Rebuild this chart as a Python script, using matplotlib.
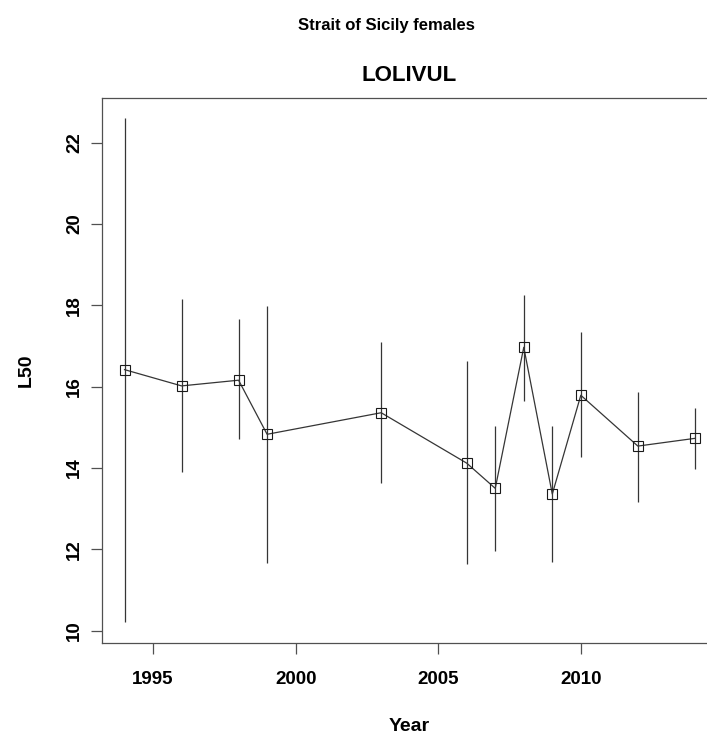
"""L50 by year with confidence bars, Strait of Sicily females (LOLIVUL)."""

import matplotlib

matplotlib.use("Agg")
import matplotlib.pyplot as plt
from matplotlib import font_manager

# values
years = [1994, 1996, 1998, 1999, 2003, 2006, 2007, 2008, 2009, 2010, 2012, 2014]
l50 = [16.42, 16.02, 16.16, 14.83, 15.36, 14.12, 13.50, 16.97, 13.36, 15.79, 14.54, 14.73]
lower = [10.22, 13.90, 14.71, 11.67, 13.63, 11.63, 11.97, 15.66, 11.70, 14.26, 13.17, 13.97]
upper = [22.60, 18.16, 17.67, 17.98, 17.09, 16.62, 15.04, 18.26, 15.04, 17.34, 15.88, 15.47]
x_ticks = [1995, 2000, 2005, 2010]
y_ticks = [10, 12, 14, 16, 18, 20, 22]

W, H = 707, 738
INK = "#505050"
LINE = "#353535"

installed = {f.name for f in font_manager.fontManager.ttflist}
if "Liberation Sans Narrow" in installed:
    title_family = "Liberation Sans Narrow"
    sub_size, main_size = 14.5, 19.5
else:
    title_family = "Liberation Sans"
    sub_size, main_size = 12, 16

plt.rcParams["font.family"] = ["Liberation Sans", "DejaVu Sans"]
plt.rcParams["font.weight"] = "bold"

fig = plt.figure(figsize=(W / 100, H / 100), dpi=100)
# axes box runs past the right edge, as in the cropped original
ax = fig.add_axes([101.7 / W, 1 - 642.7 / H, 616 / W, 545 / H])

ax.vlines(years, lower, upper, color=LINE, linewidth=0.9)
ax.plot(years, l50, color=LINE, linewidth=0.9, marker="s",
        markersize=6.7, markerfacecolor="none", markeredgecolor="#1a1a1a",
        markeredgewidth=0.8)

ax.set_xlim(1993.2, 2014.8)
ax.set_ylim(9.705, 23.107)
ax.set_xticks(x_ticks)
ax.set_yticks(y_ticks)
ax.set_xticklabels([str(v) for v in x_ticks], fontsize=13.5, fontweight="bold")
ax.set_yticklabels([str(v) for v in y_ticks], fontsize=13.5, fontweight="bold",
                   rotation=90, va="center")
ax.tick_params(axis="both", direction="out", length=8, width=0.9, color=INK)
ax.tick_params(axis="x", pad=12.4)
ax.tick_params(axis="y", pad=5.5)
for side in ax.spines.values():
    side.set_color(INK)
    side.set_linewidth(0.9)

ax.set_xlabel("Year", fontsize=14, fontweight="bold")
ax.xaxis.set_label_coords(0.5, (642.7 - 726.7) / 545)
ax.xaxis.label.set_va("center")
ax.set_ylabel("L50", fontsize=14, fontweight="bold")
ax.yaxis.set_label_coords((26 - 101.7) / 616, 0.5)
ax.yaxis.label.set_va("center")

fig.text(386 / W, 1 - 30 / H, "Strait of Sicily females", ha="center",
         va="baseline", fontsize=sub_size, fontweight="bold",
         family=[title_family, "Liberation Sans"])
fig.text(409 / W, 1 - 81 / H, "LOLIVUL", ha="center", va="baseline",
         fontsize=main_size, fontweight="bold",
         family=[title_family, "Liberation Sans"])

fig.savefig("out.png", dpi=100)
